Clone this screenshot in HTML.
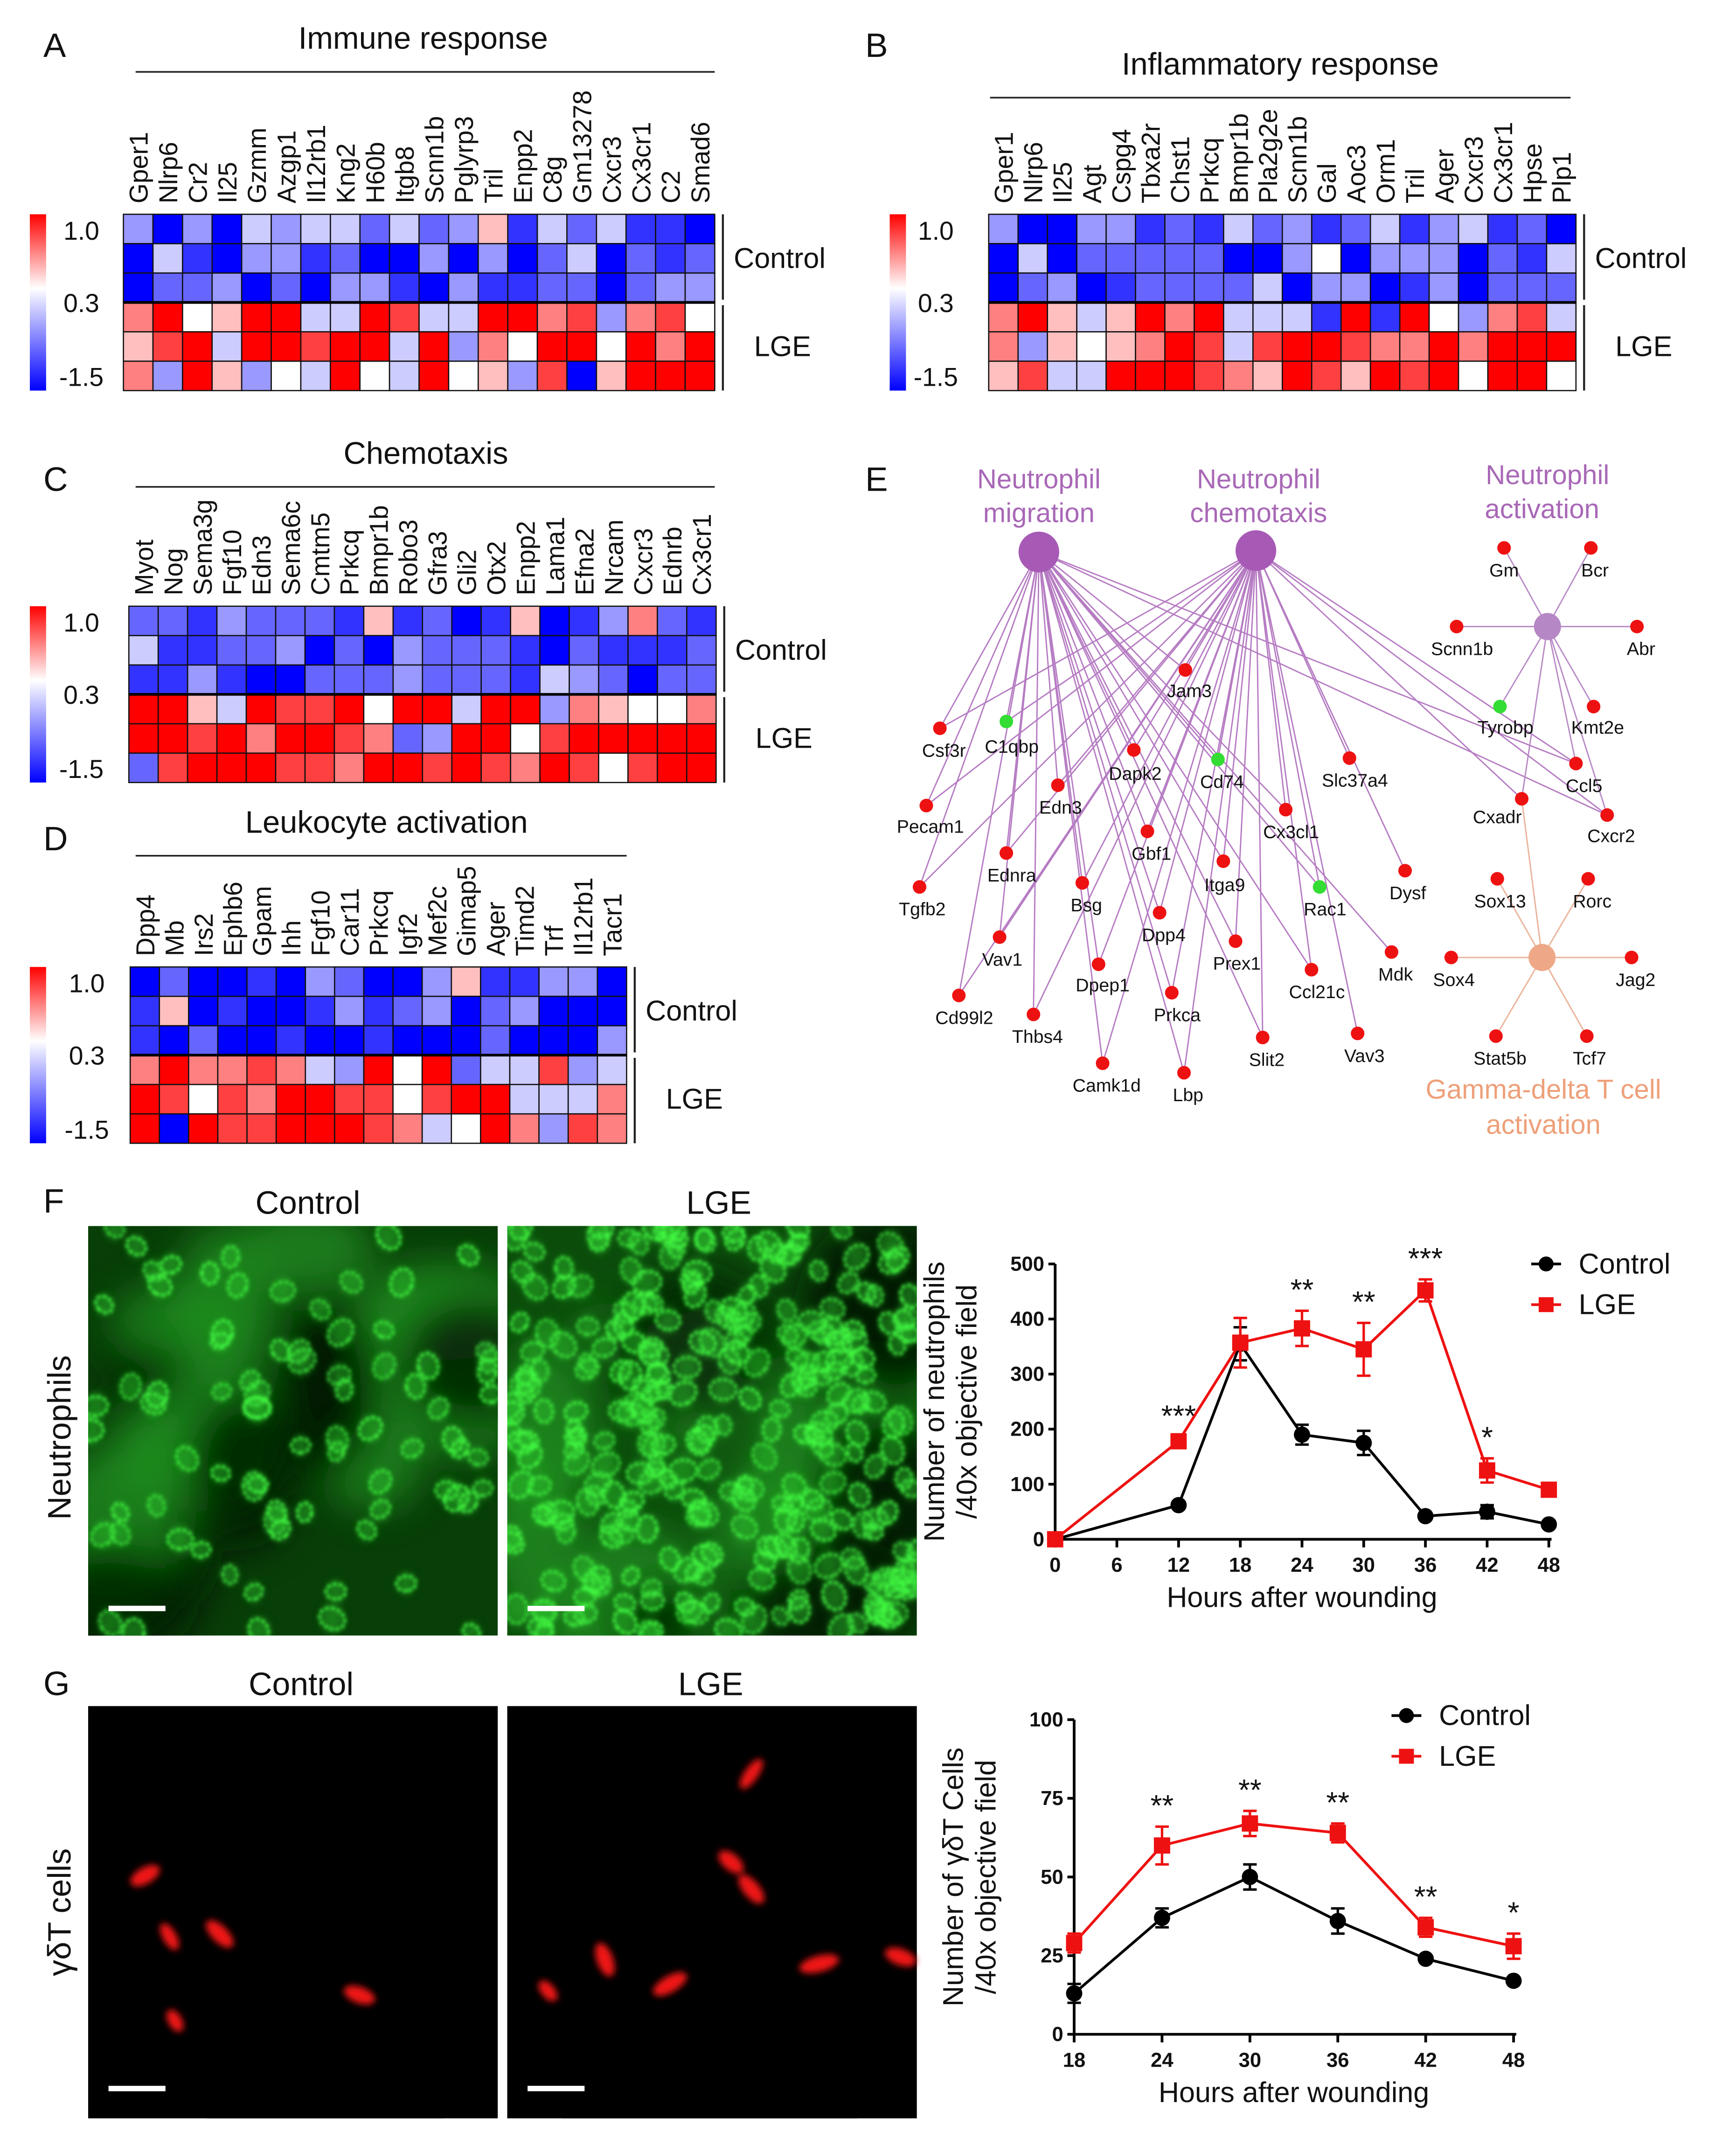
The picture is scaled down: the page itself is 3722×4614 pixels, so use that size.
<!DOCTYPE html>
<html><head><meta charset="utf-8">
<style>
html,body{margin:0;padding:0;background:#fff;}
svg{display:block;font-family:"Liberation Sans",sans-serif;}
</style></head>
<body>
<svg id="fig" xmlns="http://www.w3.org/2000/svg" width="3722" height="4614" viewBox="0 0 1280 1586.8" preserveAspectRatio="none">
<defs>
<filter id="blur1" x="-50%" y="-50%" width="200%" height="200%"><feGaussianBlur stdDeviation="1.3"/></filter>
<filter id="blur2" x="-50%" y="-50%" width="200%" height="200%"><feGaussianBlur stdDeviation="3"/></filter>
<filter id="blur4" x="-50%" y="-50%" width="200%" height="200%"><feGaussianBlur stdDeviation="14"/></filter>
<filter id="blurR" x="-50%" y="-50%" width="200%" height="200%"><feGaussianBlur stdDeviation="2.5"/></filter>
<linearGradient id="cbar" x1="0" y1="0" x2="0" y2="1">
<stop offset="0" stop-color="#ff0000"/><stop offset="0.42" stop-color="#ffffff"/><stop offset="1" stop-color="#0000ff"/>
</linearGradient>
</defs>
<rect x="0" y="0" width="1280" height="1587" fill="#fff"/>
</svg>
<script>
// ---------- Heatmap data (0 = deep blue / -1.5, 5 = white, 9 = deep red / 1.0) ----------
const genesA = ["Gper1","Nlrp6","Cr2","Il25","Gzmm","Azgp1","Il12rb1","Kng2","H60b","Itgb8","Scnn1b","Pglyrp3","Tril","Enpp2","C8g","Gm13278","Cxcr3","Cx3cr1","C2","Smad6"];
const heatA = ["30304344242361424110","04103312003030240212","02230203310311220233","79569944984499783785","68949989949375995979","73963549549563806999"];
const genesB = ["Gper1","Nlrp6","Il25","Agt","Cspg4","Tbxa2r","Chst1","Prkcq","Bmpr1b","Pla2g2e","Scnn1b","Gal","Aoc3","Orm1","Tril","Ager","Cxcr3","Cx3cr1","Hpse","Plp1"];
const heatB = ["30033121423124134120","04022222003503330214","02301222240330130222","79646979444191953784","73656798489987797999","68449998769869895995"];
const genesC = ["Myot","Nog","Sema3g","Fgf10","Edn3","Sema6c","Cmtm5","Prkcq","Bmpr1b","Robo3","Gfra3","Gli2","Otx2","Enpp2","Lama1","Efna2","Nrcam","Cxcr3","Ednrb","Cx3cr1"];
const heatC = ["22132221612016013721","41122302032221021112","11310022232221432022","99649889599499376557","99897998723995899999","28999887998987985899"];
const genesD = ["Dpp4","Mb","Irs2","Ephb6","Gpam","Ihh","Fgf10","Car11","Prkcq","Igf2","Mef2c","Gimap5","Ager","Timd2","Trf","Il12rb1","Tacr1"];
const heatD = ["02001032003611330","16010013123023000","10200100100020003","79778743959244834","98587998858994447","90988999874597387"];

// ---------- Line chart F data ----------
const hoursF = [0,12,18,24,30,36,42,48];
const ctrlF = [0,62,355,190,175,42,50,27];
const ctrlErrF = [0,6,30,18,22,5,12,5];
const lgeF = [0,178,357,383,345,452,125,90];
const lgeErrF = [0,8,45,32,48,20,22,8];
const starsF = ["","***","","**","**","***","*",""];
const xTicksF = [0,6,12,18,24,30,36,42,48];
const yTicksF = [0,100,200,300,400,500];

// ---------- Line chart G data ----------
const hoursG = [18,24,30,36,42,48];
const ctrlG = [13,37,50,36,24,17];
const ctrlErrG = [3,3,4,4,1,1];
const lgeG = [29,60,67,64,34,28];
const lgeErrG = [3,6,4,3,3,4];
const starsG = ["","**","**","**","**","*"];
const xTicksG = [18,24,30,36,42,48];
const yTicksG = [0,25,50,75,100];

const NS = "http://www.w3.org/2000/svg";
const svg = document.getElementById("fig");
function mk(tag, attrs, parent){
  const e = document.createElementNS(NS, tag);
  for (const k in attrs) e.setAttribute(k, attrs[k]);
  (parent||svg).appendChild(e);
  return e;
}
function txt(s, x, y, size, opts, parent){
  opts = opts||{};
  const e = mk("text", {x:x, y:y, "font-size":size, fill:opts.fill||"#111", "text-anchor":opts.anchor||"start"}, parent);
  if (opts.rot) e.setAttribute("transform", "rotate("+opts.rot+" "+x+" "+y+")");
  if (opts.weight) e.setAttribute("font-weight", opts.weight);
  e.textContent = s;
  return e;
}
function colorOf(d){
  if (d < 5){ const t = d/5; const c = Math.round(255*t); return "rgb("+c+","+c+",255)"; }
  const t = (d-5)/4; const c = Math.round(255*(1-t)); return "rgb(255,"+c+","+c+")";
}

// ---------- Panel letters ----------
[["A",32,42],["B",638,42],["C",32,362],["D",32,627],["E",638,362],["F",32,894],["G",32,1250]].forEach(p=>{
  const t = txt(p[0], p[1], p[2], 25);
  
  
});

function heatmap(key, title, titleCx, titleY, ulX1, ulX2, genes, data, x0, y0, x1, y1, cbX, lblX){
  const g = mk("g", {});
  
  
  const tt = txt(title, titleCx, titleY, 23, {anchor:"middle"}, g);
  
  
  mk("line", {x1:ulX1, y1:titleY+17, x2:ulX2, y2:titleY+17, stroke:"#222", "stroke-width":1.2}, g);
  const n = genes.length, cw = (x1-x0)/n, rh = (y1-y0)/6;
  genes.forEach((gn,i)=>{
    const cx = x0 + cw*(i+0.5) + 7;
    const t = txt(gn, cx, y0-8, 19, {rot:-90}, g);
    
    
  });
  data.forEach((row,r)=>{
    for (let i=0;i<n;i++){
      const c = mk("rect", {x:x0+cw*i, y:y0+rh*r, width:cw, height:rh, fill:colorOf(+row[i]), stroke:"#111", "stroke-width":0.9}, g);
      
      
    }
  });
  mk("line", {x1:x0, y1:y0+rh*3, x2:x1, y2:y0+rh*3, stroke:"#000", "stroke-width":2}, g);
  const cb = mk("rect", {x:cbX, y:y0, width:12, height:y1-y0, fill:"url(#cbar)"}, g);
  
  
  [["1.0",0.09],["0.3",0.5],["-1.5",0.92]].forEach(l=>{
    const t = txt(l[0], lblX, y0+(y1-y0)*l[1]+7, 19, {anchor:"middle"}, g);
    
    
  });
  mk("line", {x1:x1+6, y1:y0, x2:x1+6, y2:y0+rh*3-2, stroke:"#222", "stroke-width":1.5}, g);
  mk("line", {x1:x1+6, y1:y0+rh*3+2, x2:x1+6, y2:y1, stroke:"#222", "stroke-width":1.5}, g);
  const c1 = txt("Control", x1+14, y0+rh*1.5+7, 21, {}, g);
  
  
  const c2 = txt("LGE", x1+29, y0+rh*4.5+7, 21, {}, g);
  
  
}
heatmap("a","Immune response",312,36,100,527,genesA,heatA,91,158,527,288,22,60);
heatmap("b","Inflammatory response",944,55,730,1158,genesB,heatB,729,158,1162,288,656,690);
heatmap("c","Chemotaxis",314,342,100,527,genesC,heatC,95,447,528,577,22,60);
heatmap("d","Leukocyte activation",285,614,100,462,genesD,heatD,96,713,462,843,22,64);

// ---------- Network E ----------
const nodes = {
 Jam3:[874,494,877,510],Csf3r:[693,537,696,554],C1qbp:[742,532,746,551,"g"],Dapk2:[836,553,837,571],Cd74:[898,560,901,577,"g"],
 Slc37a4:[995,559,999,576],Edn3:[780,579,782,596],Pecam1:[683,594,686,610],Cx3cl1:[948,597,952,614],Gbf1:[846,613,849,630],
 Ednra:[742,629,746,646],Itga9:[902,635,903,653],Dysf:[1036,642,1038,659],Tgfb2:[678,654,680,671],Rac1:[973,654,977,671,"g"],
 Bsg:[798,651,801,668],Dpp4:[855,673,858,690],Vav1:[737,691,739,708],Prex1:[911,694,912,711],Mdk:[1026,702,1029,719],
 Ccl21c:[967,715,971,732],Dpep1:[810,711,813,727],Cd99l2:[707,734,711,751],Prkca:[864,732,868,749],Thbs4:[762,748,765,765],
 Slit2:[931,765,934,782],Vav3:[1001,762,1006,779],Camk1d:[813,784,816,801],Lbp:[873,791,876,808],
 Gm:[1109,404,1109,421],Bcr:[1173,404,1176,421],Scnn1b:[1074,462,1078,479],Abr:[1207,462,1210,479],Tyrobp:[1106,521,1110,537,"g"],
 Kmt2e:[1175,521,1178,537],Ccl5:[1162,563,1168,580],Cxadr:[1122,589,1104,603],Cxcr2:[1185,601,1188,617],
 Sox13:[1104,648,1106,665],Rorc:[1171,648,1174,665],Sox4:[1070,706,1072,723],Jag2:[1203,706,1206,723],Stat5b:[1103,764,1106,781],Tcf7:[1170,764,1172,781]
};
const hubs = {mig:[766,407,15,"#a75ab5"],chem:[926,406,15,"#a75ab5"],act:[1141,462,10,"#b587c4"],gd:[1137,706,10,"#eea887"]};
const edgesMig = ["Csf3r","C1qbp","Pecam1","Tgfb2","Ednra","Edn3","Vav1","Cd99l2","Thbs4","Bsg","Dpep1","Camk1d","Dpp4","Gbf1","Itga9","Prex1","Slit2","Rac1","Mdk","Ccl21c","Cx3cl1","Jam3","Cd74","Ccl5","Cxcr2","Dapk2","Prkca","Lbp"];
const edgesChem = ["Csf3r","C1qbp","Jam3","Cd74","Slc37a4","Dysf","Edn3","Ednra","Dapk2","Gbf1","Itga9","Prex1","Vav1","Vav3","Cx3cl1","Ccl21c","Prkca","Lbp","Camk1d","Dpep1","Thbs4","Cd99l2","Bsg","Ccl5","Cxadr","Cxcr2","Rac1","Slit2","Pecam1","Tgfb2","Dpp4"];
const edgesAct = ["Gm","Bcr","Scnn1b","Abr","Tyrobp","Kmt2e","Ccl5","Cxadr","Cxcr2"];
const edgesGd = ["Sox13","Rorc","Sox4","Jag2","Stat5b","Tcf7","Cxadr"];
const netG = mk("g", {});


function edges(h, list, col){
  list.forEach(n=>{
    const e = mk("line", {x1:hubs[h][0], y1:hubs[h][1], x2:nodes[n][0], y2:nodes[n][1], stroke:col, "stroke-width":1}, netG);
    
    
  });
}
edges("mig", edgesMig, "#b67cc3");
edges("chem", edgesChem, "#b67cc3");
edges("act", edgesAct, "#b98bc6");
edges("gd", edgesGd, "#eab39a");
for (const h in hubs){
  const c = mk("circle", {cx:hubs[h][0], cy:hubs[h][1], r:hubs[h][2], fill:hubs[h][3]}, netG);
  
  
}
for (const n in nodes){
  const d = nodes[n];
  const c = mk("circle", {cx:d[0], cy:d[1], r:5, fill:d[4]==="g"?"#33dd33":"#ee1111"}, netG);
  
  
  const t = txt(n, d[2], d[3]+4, 13.5, {anchor:"middle"}, netG);
  
  
}
[["Neutrophil",766,360,"#a868b6"],["migration",766,385,"#a868b6"],["Neutrophil",928,360,"#a868b6"],["chemotaxis",928,385,"#a868b6"],
 ["Neutrophil",1141,357,"#a868b6"],["activation",1137,382,"#a868b6"],["Gamma-delta T cell",1138,810,"#eea07a"],["activation",1138,836,"#eea07a"]].forEach(l=>{
  const t = txt(l[0], l[1], l[2], 20, {anchor:"middle", fill:l[3]}, netG);
  
  
});

// ---------- Microscopy images ----------
let seed = 12345;
function rnd(){ seed = (seed*16807) % 2147483647; return (seed-1)/2147483646; }
function greenImage(x, y, w, h, count, base, name){
  const g = mk("g", {});
  
  
  const cp = mk("clipPath", {id:"clip-"+name}, g);
  mk("rect", {x:x, y:y, width:w, height:h}, cp);
  const inner = mk("g", {"clip-path":"url(#clip-"+name+")"}, g);
  mk("rect", {x:x, y:y, width:w, height:h, fill:base}, inner);
  const glow = mk("g", {filter:"url(#blur4)"}, inner);
  for (let i=0;i<16;i++){
    mk("ellipse", {cx:x+rnd()*w, cy:y+rnd()*h, rx:25+rnd()*45, ry:25+rnd()*45, fill: rnd()<0.4 ? "#011501" : "#1f8f1f", opacity:0.75}, glow);
  }
  const soft = mk("g", {filter:"url(#blur2)"}, inner);
  const ring = mk("g", {filter:"url(#blur1)"}, inner);
  for (let i=0;i<count;i++){
    const cx = x+rnd()*w, cy = y+rnd()*h, r = 5+rnd()*3, rot = Math.round(rnd()*180);
    mk("ellipse", {cx:cx, cy:cy, rx:r+1, ry:r*1.3+1, fill:"#2fc82f", opacity:0.45}, soft);
    mk("ellipse", {cx:cx, cy:cy, rx:r, ry:r*1.3, fill:"none", stroke:"#44ff44", "stroke-width":2.4, "stroke-dasharray":"3 1.5", opacity:0.7+rnd()*0.3, transform:"rotate("+rot+" "+cx+" "+cy+")"}, ring);
  }
  mk("rect", {x:x+15, y:y+h-22, width:42, height:4, fill:"#fff"}, g);
}
function redImage(x, y, w, h, cells, name){
  const g = mk("g", {});
  
  
  mk("rect", {x:x, y:y, width:w, height:h, fill:"#000"}, g);
  const b = mk("g", {filter:"url(#blurR)"}, g);
  cells.forEach(c=>{
    mk("ellipse", {cx:x+c[0], cy:y+c[1], rx:c[2], ry:c[3], fill:"#f01414", transform:"rotate("+c[4]+" "+(x+c[0])+" "+(y+c[1])+")"}, b);
  });
  mk("rect", {x:x+15, y:y+h-24, width:42, height:4, fill:"#fff"}, g);
}
greenImage(65,904,302,302,80,"#083e08","microscopy-neutrophils-control");
greenImage(374,904,302,302,300,"#0b4c0b","microscopy-neutrophils-lge");
redImage(65,1258,302,304,[[42,125,12,6,-30],[60,170,11,5,60],[97,168,13,6,45],[200,213,12,6,20],[64,232,9,5,60]],"microscopy-gdt-control");
redImage(374,1258,302,304,[[180,50,13,5,-55],[72,187,13,6,70],[165,115,11,6,40],[180,135,13,6,50],[120,205,14,6,-30],[230,190,15,6,-15],[290,185,12,6,20],[30,210,9,5,50]],"microscopy-gdt-lge");
[["Control",227,895],["LGE",530,895],["Control",222,1250],["LGE",524,1250]].forEach(l=>{
  const t = txt(l[0], l[1], l[2], 24, {anchor:"middle"});
  
  
});
const nl = txt("Neutrophils", 52, 1060, 24, {anchor:"middle", rot:-90});


const gl = txt("γδT cells", 52, 1410, 24, {anchor:"middle", rot:-90});



// ---------- Line charts ----------
function lineChart(key, cfg){
  const g = mk("g", {});
  
  
  const sx = v => cfg.x0 + (v-cfg.xmin)/(cfg.xmax-cfg.xmin)*(cfg.x1-cfg.x0);
  const sy = v => cfg.y0 - (v-cfg.ymin)/(cfg.ymax-cfg.ymin)*(cfg.y0-cfg.y1);
  mk("line", {x1:cfg.x0, y1:cfg.y0, x2:cfg.x0, y2:cfg.y1, stroke:"#000", "stroke-width":2}, g);
  mk("line", {x1:cfg.x0, y1:cfg.y0, x2:cfg.x1+2, y2:cfg.y0, stroke:"#000", "stroke-width":2}, g);
  cfg.yTicks.forEach(v=>{
    mk("line", {x1:cfg.x0-5, y1:sy(v), x2:cfg.x0, y2:sy(v), stroke:"#000", "stroke-width":2}, g);
    const t = txt(String(v), cfg.x0-8, sy(v)+5, 15, {anchor:"end", weight:"bold"}, g);
    
    
  });
  cfg.xTicks.forEach(v=>{
    mk("line", {x1:sx(v), y1:cfg.y0, x2:sx(v), y2:cfg.y0+6, stroke:"#000", "stroke-width":2}, g);
    const t = txt(String(v), sx(v), cfg.y0+24, 15, {anchor:"middle", weight:"bold"}, g);
    
    
  });
  const xt = txt("Hours after wounding", (cfg.x0+cfg.x1)/2, cfg.y0+50, 21, {anchor:"middle"}, g);
  
  
  const yc = (cfg.y0+cfg.y1)/2;
  const yt1 = txt(cfg.yTitle1, cfg.x0-82, yc, 21, {anchor:"middle", rot:-90}, g);
  
  
  const yt2 = txt("/40x objective field", cfg.x0-58, yc, 21, {anchor:"middle", rot:-90}, g);
  
  
  function series(name, xs, ys, es, col, square){
    const sg = mk("g", {}, g);
    
    
    mk("polyline", {points: xs.map((x,i)=>sx(x)+","+sy(ys[i])).join(" "), fill:"none", stroke:col, "stroke-width":2}, sg);
    xs.forEach((x,i)=>{
      if (es[i] > 0){
        const a = sy(ys[i]+es[i]), b = sy(ys[i]-es[i]);
        mk("line", {x1:sx(x), y1:a, x2:sx(x), y2:b, stroke:col, "stroke-width":1.8}, sg);
        mk("line", {x1:sx(x)-5, y1:a, x2:sx(x)+5, y2:a, stroke:col, "stroke-width":1.8}, sg);
        mk("line", {x1:sx(x)-5, y1:b, x2:sx(x)+5, y2:b, stroke:col, "stroke-width":1.8}, sg);
      }
      const m = square ? mk("rect", {x:sx(x)-6, y:sy(ys[i])-6, width:12, height:12, fill:col}, sg)
                       : mk("circle", {cx:sx(x), cy:sy(ys[i]), r:6, fill:col}, sg);
      
      
    });
  }
  series("control", cfg.xs, cfg.ctrl, cfg.ctrlErr, "#000", false);
  series("lge", cfg.xs, cfg.lge, cfg.lgeErr, "#ee1111", true);
  cfg.xs.forEach((x,i)=>{
    if (!cfg.stars[i]) return;
    const t = txt(cfg.stars[i], sx(x), sy(cfg.lge[i]+cfg.lgeErr[i])-8, 22, {anchor:"middle"}, g);
    
    
  });
  const lg = mk("g", {}, g);
  
  
  mk("line", {x1:cfg.lx, y1:cfg.ly, x2:cfg.lx+22, y2:cfg.ly, stroke:"#000", "stroke-width":2}, lg);
  mk("circle", {cx:cfg.lx+11, cy:cfg.ly, r:5.5, fill:"#000"}, lg);
  const l1 = txt("Control", cfg.lx+35, cfg.ly+7, 21, {}, lg);
  
  
  mk("line", {x1:cfg.lx, y1:cfg.ly+30, x2:cfg.lx+22, y2:cfg.ly+30, stroke:"#ee1111", "stroke-width":2}, lg);
  mk("rect", {x:cfg.lx+5.5, y:cfg.ly+24.5, width:11, height:11, fill:"#ee1111"}, lg);
  const l2 = txt("LGE", cfg.lx+35, cfg.ly+37, 21, {}, lg);
  
  
}
lineChart("f", {x0:778,x1:1142,y0:1135,y1:932,xmin:0,xmax:48,ymin:0,ymax:500,xTicks:xTicksF,yTicks:yTicksF,
  xs:hoursF,ctrl:ctrlF,ctrlErr:ctrlErrF,lge:lgeF,lgeErr:lgeErrF,stars:starsF,yTitle1:"Number of neutrophils",lx:1129,ly:932});
lineChart("g", {x0:792,x1:1116,y0:1500,y1:1268,xmin:18,xmax:48,ymin:0,ymax:100,xTicks:xTicksG,yTicks:yTicksG,
  xs:hoursG,ctrl:ctrlG,ctrlErr:ctrlErrG,lge:lgeG,lgeErr:lgeErrG,stars:starsG,yTitle1:"Number of γδT  Cells",lx:1026,ly:1265});
</script>
</body></html>
